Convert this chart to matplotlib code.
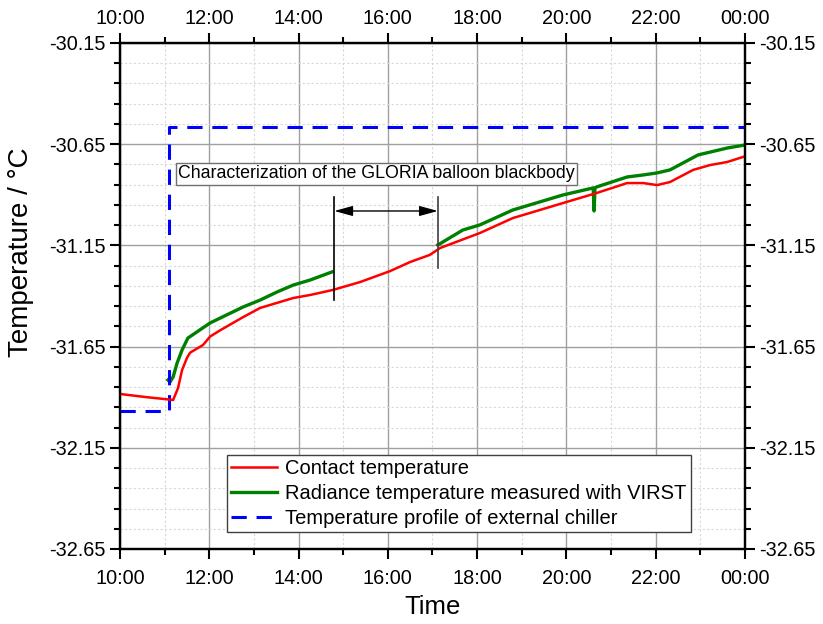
import matplotlib
matplotlib.use("Agg")
import matplotlib.pyplot as plt
from matplotlib.ticker import FixedLocator, MultipleLocator, FixedFormatter

plt.rcParams['font.family'] = ['Liberation Sans', 'DejaVu Sans']
plt.rcParams['axes.unicode_minus'] = False

# Time in hours (10 = 10:00, 24 = 00:00)
red_t = [10.00, 10.56, 11.12, 11.19, 11.30, 11.39, 11.50, 11.57, 11.86, 12.02, 12.24,
         12.76, 13.14, 13.88, 14.26, 14.77, 15.38, 16.05, 16.50, 16.94, 17.17, 18.06,
         18.80, 19.18, 19.92, 20.68, 21.36, 21.72, 22.03, 22.32, 22.84, 23.22, 23.60, 24.00]
red_v = [-31.884, -31.899, -31.912, -31.914, -31.855, -31.766, -31.706, -31.680, -31.642,
         -31.600, -31.570, -31.504, -31.459, -31.410, -31.395, -31.370, -31.331, -31.277,
         -31.232, -31.197, -31.163, -31.089, -31.015, -30.990, -30.941, -30.891, -30.842,
         -30.842, -30.852, -30.837, -30.777, -30.753, -30.738, -30.710]

green1_t = [11.075, 11.12, 11.19, 11.28, 11.39, 11.52, 11.72, 12.02, 12.76, 13.14, 13.52,
            13.88, 14.26, 14.75]
green1_v = [-31.815, -31.825, -31.800, -31.731, -31.667, -31.608, -31.578, -31.533, -31.454,
            -31.420, -31.380, -31.346, -31.321, -31.281]
green2_t = [17.12, 17.68, 18.06, 18.80, 19.18, 19.92, 20.60, 20.62, 20.64, 20.68, 21.36,
            21.72, 22.03, 22.32, 22.95, 23.22, 23.60, 24.00]
green2_v = [-31.148, -31.074, -31.049, -30.975, -30.950, -30.901, -30.866, -30.980, -30.866,
            -30.861, -30.812, -30.802, -30.792, -30.777, -30.703, -30.689, -30.669, -30.654]

blue_t = [10.0, 11.1, 11.1, 24.0]
blue_v = [-31.97, -31.97, -30.565, -30.565]

x_ticks = [10, 12, 14, 16, 18, 20, 22, 24]
x_labels = ["10:00", "12:00", "14:00", "16:00", "18:00", "20:00", "22:00", "00:00"]
y_ticks = [-32.65, -32.15, -31.65, -31.15, -30.65, -30.15]
y_labels = ["-32.65", "-32.15", "-31.65", "-31.15", "-30.65", "-30.15"]

label_red = "Contact temperature"
label_green = "Radiance temperature measured with VIRST"
label_blue = "Temperature profile of external chiller"
annot_text = "Characterization of the GLORIA balloon blackbody"
gap_start, gap_end = 14.80, 17.12

fig = plt.figure(figsize=(8.23, 6.24), dpi=100)
ax = fig.add_axes([0.1458, 0.1202, 0.7594, 0.8109])

ax.plot(red_t, red_v, color='#ff0000', lw=1.8, label=label_red, zorder=3)
ax.plot(green1_t, green1_v, color='#008000', lw=2.4, label=label_green, zorder=2)
ax.plot(green2_t, green2_v, color='#008000', lw=2.4, zorder=2)
ax.plot(blue_t, blue_v, color='#0000ff', lw=2.2, ls=(0, (5.0, 3.2)), label=label_blue, zorder=2)

ax.set_xlim(10, 24)
ax.set_ylim(-32.65, -30.15)

minor_y = [-32.65 + 0.1 * i for i in range(26)]

ax.xaxis.set_major_locator(FixedLocator(x_ticks))
ax.xaxis.set_major_formatter(FixedFormatter(x_labels))
ax.xaxis.set_minor_locator(MultipleLocator(1))
ax.yaxis.set_major_locator(FixedLocator(y_ticks))
ax.yaxis.set_major_formatter(FixedFormatter(y_labels))
ax.yaxis.set_minor_locator(FixedLocator(minor_y))

ax.grid(which='major', color='#a0a0a0', lw=1.0, ls='-')
ax.grid(which='minor', color='#d8d8d8', lw=0.8, ls=(0, (2, 2)))
ax.set_axisbelow(True)

for s in ax.spines.values():
    s.set_linewidth(1.6)
    s.set_color('black')

ax.tick_params(which='both', direction='out', top=False, right=True,
               labeltop=False, labelright=True, width=1.5, labelsize=14.3)
ax.tick_params(which='major', length=7)
ax.tick_params(which='minor', length=4)
ax.tick_params(axis='x', which='major', pad=7.5)

# top axis
ax2 = ax.twiny()
ax2.set_xlim(ax.get_xlim())
ax2.xaxis.set_major_locator(FixedLocator(x_ticks))
ax2.xaxis.set_major_formatter(FixedFormatter(x_labels))
ax2.xaxis.set_minor_locator(MultipleLocator(1))
ax2.tick_params(which='both', direction='out', width=1.5, labelsize=14.3)
ax2.tick_params(which='major', length=7, pad=3.5)
ax2.tick_params(which='minor', length=4)
for s in ax2.spines.values():
    s.set_linewidth(1.6)

ax.set_xlabel("Time", fontsize=18.5, labelpad=5)
fig.text(21 / 823, 1 - 252 / 624, "Temperature / °C", fontsize=20, rotation=90,
         ha='center', va='center')

# annotation box
ax.text(11.30, -30.797, annot_text, fontsize=12.8, va='center', ha='left',
        bbox=dict(boxstyle='square,pad=0.13', fc='white', ec='#707070', lw=1.0), zorder=5)

# markers of the gap
ax.plot([gap_start, gap_start], [-30.91, -31.42], color='black', lw=1.2, zorder=4)
ax.plot([gap_end, gap_end], [-30.91, -31.26], color='#404040', lw=1.2, zorder=4)
ax.annotate("", xy=(gap_start, -30.98), xytext=(gap_end, -30.98),
            arrowprops=dict(arrowstyle='<|-|>,head_length=0.8,head_width=0.22', color='black', lw=1.0,
                            shrinkA=0, shrinkB=0, mutation_scale=14), zorder=4)

leg = ax.legend(loc='lower left', bbox_to_anchor=(0.171, 0.034), fontsize=14.5,
                frameon=True, fancybox=False, edgecolor='#404040', framealpha=1,
                borderpad=0.2, labelspacing=0.29, handlelength=2.3, handletextpad=0.4,
                borderaxespad=0)
leg.get_frame().set_linewidth(1.0)

fig.savefig("out.png", dpi=100)
